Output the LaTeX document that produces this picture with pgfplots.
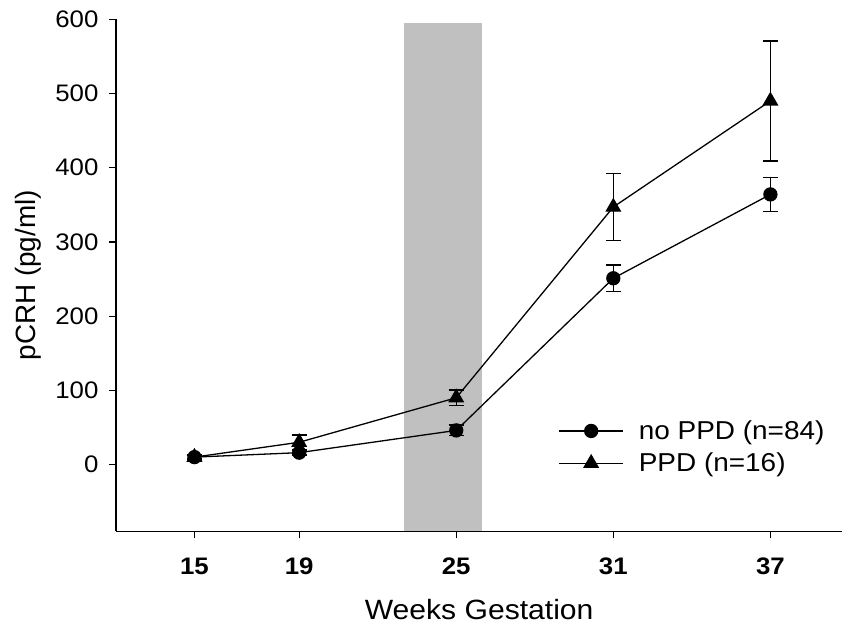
\documentclass[border=0pt]{standalone}
\usepackage{fontspec}
\setmainfont{Liberation Sans}[FakeStretch=1.08]
\newfontfamily\plainsans{Liberation Sans}
\usepackage{pgfplots}
\pgfplotsset{compat=1.18}
\definecolor{bandgray}{RGB}{192,192,192}

\begin{document}
\begin{tikzpicture}
\begin{axis}[
    scale only axis,
    width=727bp, height=512.4bp,
    xmin=12, xmax=39.75,
    ymin=-90, ymax=600,
    axis x line=bottom, axis y line=left,
    axis line style={-, line width=1.2bp},
    axis on top,
    xtick={15,19,25,31,37},
    ytick={0,100,...,600},
    tick align=outside,
    major tick length=7bp,
    tick style={line width=1.2bp, black},
    /pgf/number format/assume math mode=true,
    yticklabel style={font=\fontsize{24}{29}\selectfont, xshift=-7bp},
    xticklabel style={font=\fontsize{24}{29}\selectfont\bfseries, yshift=-16bp},
    xlabel={Weeks Gestation},
    ylabel={pCRH (pg/ml)},
    xlabel style={font=\fontsize{28}{33}\selectfont,
        at={(axis description cs:0.5,0)}, anchor=base, yshift=-88bp},
    ylabel style={font=\plainsans\fontsize{28}{33}\selectfont,
        at={(axis description cs:-0.121,0.5)}, anchor=center},
    legend cell align=left,
    legend image code/.code={
        \draw[mark repeat=2, mark phase=2, #1] plot coordinates {(0bp,0bp) (32bp,0bp) (64bp,0bp)};
    },
    legend style={
        draw=none, fill=none, inner sep=0pt,
        at={(axis description cs:0.609,0.1645)}, anchor=west,
        font=\fontsize{26}{31}\selectfont,
        nodes={inner sep=1bp},
        row sep=10bp,
        /tikz/every odd column/.append style={column sep=14bp},
    },
]
% shaded weeks 23-26
\addplot[draw=none, fill=bandgray, forget plot]
    coordinates {(23,-90) (23,595) (26,595) (26,-90)} -- cycle;

% no PPD (n=84)
\addplot[black, line width=1.3bp, mark=*, mark size=6.5bp,
    error bars/.cd, y dir=both, y explicit,
    error bar style={line width=1.5bp},
    error mark options={rotate=90, mark size=7.5bp, line width=1.5bp}]
    coordinates {
    (15,10)  +- (0,2)
    (19,16)  +- (0,3)
    (25,46)  +- (0,7)
    (31,251) +- (0,18)
    (37,364) +- (0,23)
    };
\addlegendentry{no PPD (n=84)}

% PPD (n=16)
\addplot[black, line width=1.3bp, mark=triangle*, mark size=8bp,
    error bars/.cd, y dir=both, y explicit,
    error bar style={line width=1.5bp},
    error mark options={rotate=90, mark size=7.5bp, line width=1.5bp}]
    coordinates {
    (15,10)  +- (0,3)
    (19,30)  +- (0,10)
    (25,90)  +- (0,10.5)
    (31,347) +- (0,45)
    (37,490) +- (0,81)
    };
\addlegendentry{PPD (n=16)}
\end{axis}
\path[use as bounding box] ([xshift=-116bp, yshift=-99.3bp]current axis.south west)
    rectangle ([yshift=19.3bp]current axis.north east);
\end{tikzpicture}
\end{document}
